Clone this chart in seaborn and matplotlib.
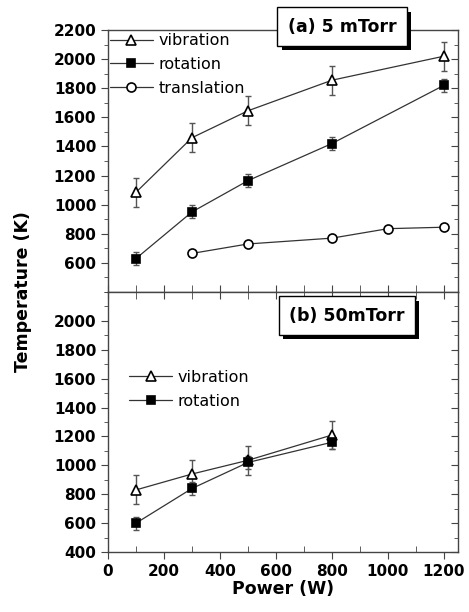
import numpy as np
import pandas as pd
import seaborn as sns
from matplotlib import pyplot as plt
from matplotlib.ticker import MultipleLocator
import matplotlib.patheffects as pe

# panel (a) 5 mTorr
power_a = [100, 300, 500, 800, 1200]
vib_a = [1085, 1460, 1645, 1855, 2020]
vib_a_err = [100, 100, 100, 100, 100]
rot_a = [630, 950, 1165, 1420, 1820]
rot_a_err = [45, 45, 45, 45, 45]
power_tr = [300, 500, 800, 1000, 1200]
trans_a = [665, 730, 770, 835, 845]

# panel (b) 50mTorr
power_b = [100, 300, 500, 800]
vib_b = [830, 940, 1035, 1210]
vib_b_err = [100, 95, 100, 95]
rot_b = [600, 840, 1020, 1160]
rot_b_err = [45, 45, 45, 45]

sns.set_style("ticks")
plt.rcParams['font.family'] = ['DejaVu Sans']
plt.rcParams['text.color'] = 'black'
plt.rcParams['axes.labelcolor'] = 'black'
plt.rcParams['xtick.labelcolor'] = 'black'
plt.rcParams['ytick.labelcolor'] = 'black'

fig = plt.figure(figsize=(4.69, 6.12), dpi=100)
ax1 = fig.add_axes([0.2303, 0.5229, 0.7462, 0.4281])
ax2 = fig.add_axes([0.2303, 0.0980, 0.7462, 0.4249], sharex=ax1)

lc = '#333333'
gc = '#444444'


def series(ax, x, y, err, marker, mfc, ms, label):
    df = pd.DataFrame({'x': x, 'y': y})
    if err is not None:
        ax.errorbar(x, y, yerr=err, fmt='none', ecolor='#555555',
                    elinewidth=1.0, capsize=2.5, capthick=1.0, zorder=2)
    sns.lineplot(data=df, x='x', y='y', ax=ax, color=lc, lw=0.9,
                 marker=marker, markersize=ms, markerfacecolor=mfc,
                 markeredgecolor='k', markeredgewidth=1.2, label=label,
                 zorder=3)


series(ax1, power_a, vib_a, vib_a_err, '^', 'white', 7, 'vibration')
series(ax1, power_a, rot_a, rot_a_err, 's', 'black', 5.8, 'rotation')
series(ax1, power_tr, trans_a, None, 'o', 'white', 6.5, 'translation')
series(ax2, power_b, vib_b, vib_b_err, '^', 'white', 7, 'vibration')
series(ax2, power_b, rot_b, rot_b_err, 's', 'black', 5.8, 'rotation')

for ax in (ax1, ax2):
    ax.set_xlim(0, 1250)
    ax.set_ylim(400, 2200)
    ax.xaxis.set_major_locator(MultipleLocator(200))
    ax.xaxis.set_minor_locator(MultipleLocator(100))
    ax.yaxis.set_minor_locator(MultipleLocator(100))
    ax.set_xlabel('')
    ax.set_ylabel('')
    for s in ax.spines.values():
        s.set_color(gc)
        s.set_linewidth(1.0)
    ax.tick_params(axis='y', which='both', left=True, right=True,
                   direction='out', color=gc)
    ax.tick_params(axis='y', which='major', length=5)
    ax.tick_params(axis='y', which='minor', length=3)

ax1.set_yticks([600, 800, 1000, 1200, 1400, 1600, 1800, 2000, 2200])
ax2.set_yticks([400, 600, 800, 1000, 1200, 1400, 1600, 1800, 2000])

# right side ticks point inwards
for ax in (ax1, ax2):
    for tk in ax.yaxis.get_major_ticks() + ax.yaxis.get_minor_ticks():
        tk.tick2line.set_marker(0)
    for t in ax.get_yticklabels():
        t.set_fontweight('bold')
        t.set_fontsize(11)

leg_kw = dict(loc='upper left', frameon=False, fontsize=11.5,
              handlelength=2.7, handletextpad=0.35, labelspacing=0.55,
              borderaxespad=0.0, borderpad=0.0)
ax1.legend(bbox_to_anchor=(0.005, 0.988), **leg_kw)
ax2.legend(bbox_to_anchor=(0.06, 0.70), **leg_kw)

ax1.tick_params(axis='x', which='both', bottom=True, top=False,
                direction='in', labelbottom=False, length=5, color=gc)
ax2.tick_params(axis='x', which='both', top=True, bottom=True, color=gc)
ax2.tick_params(axis='x', which='major', direction='out', length=5)
ax2.tick_params(axis='x', which='minor', direction='in', length=4)
for tk in ax2.xaxis.get_major_ticks() + ax2.xaxis.get_minor_ticks():
    tk.tick2line.set_marker(3)
    tk.tick2line.set_markersize(5)
for t in ax2.get_xticklabels():
    t.set_fontweight('bold')
    t.set_fontsize(11)

ax2.set_xlabel('Power (W)', fontsize=12.5, fontweight='bold', labelpad=1,
               color='black')
fig.text(0.048, 0.523, 'Temperature (K)', rotation=90, ha='center',
         va='center', fontsize=12.5, fontweight='bold', color='black')


def label_box(ax, x, y, text):
    t = ax.text(x, y, text, ha='center', va='center', fontsize=12.5,
                fontweight='bold', transform=ax.transAxes, zorder=10,
                clip_on=False,
                bbox=dict(boxstyle='square,pad=0.6', fc='white', ec='black',
                          lw=1.0))
    t.get_bbox_patch().set_path_effects([
        pe.SimplePatchShadow(offset=(3, -3), shadow_rgbFace='black',
                             alpha=1.0),
        pe.Normal()])


label_box(ax1, 0.669, 1.012, '(a) 5 mTorr')
label_box(ax2, 0.683, 0.908, '(b) 50mTorr')

fig.savefig('out.png', dpi=100)
